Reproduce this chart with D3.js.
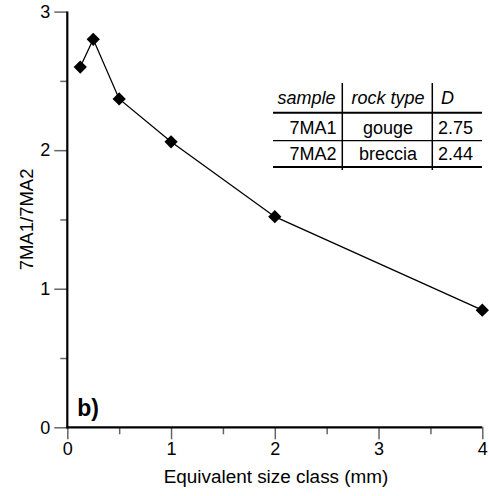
<!DOCTYPE html>
<html>
<head>
<meta charset="utf-8">
<script src="https://cdn.jsdelivr.net/npm/d3@7"></script>
<style>
  body { margin: 0; background: #fff; }
  svg { display: block; font-family: "Liberation Sans", Arial, sans-serif; }
  .axis text { font-size: 18px; fill: #000; }
  .axis line { stroke: #666; stroke-width: 1.5; }
  .axis path { display: none; }
  .tbl text { font-size: 18px; }
</style>
</head>
<body>
<svg id="chart"></svg>
<script>
// size class (mm) and ratio 7MA1/7MA2
const sizeClass = [0.125, 0.25, 0.5, 1, 2, 4];
const ratio = [2.60, 2.80, 2.37, 2.06, 1.52, 0.845];

const xTicks = [0, 1, 2, 3, 4];
const xMinor = [0.5, 1.5, 2.5, 3.5];
const yTicks = [0, 1, 2, 3];
const yMinor = [0.5, 1.5, 2.5];

const tableHeader = ['sample', 'rock type', 'D'];
const tableSamples = ['7MA1', '7MA2'];
const tableRock = ['gouge', 'breccia'];
const tableD = ['2.75', '2.44'];

const data = sizeClass.map((d, i) => ({ x: d, y: ratio[i] }));

const width = 489, height = 496;
const margin = { top: 11.6, right: 6.7, bottom: 68.7, left: 67.3 };
const innerW = width - margin.left - margin.right;
const innerH = height - margin.top - margin.bottom;

const svg = d3.select('#chart')
  .attr('width', width)
  .attr('height', height);

const chart = svg.append('g')
  .attr('transform', `translate(${margin.left}, ${margin.top})`);

const xScale = d3.scaleLinear().domain([0, 4]).range([0, innerW]);
const yScale = d3.scaleLinear().domain([0, 3]).range([innerH, 0]);

// minor ticks first
chart.append('g')
  .attr('class', 'axis')
  .attr('transform', `translate(0, ${innerH})`)
  .call(d3.axisBottom(xScale).tickValues(xMinor).tickSize(7).tickFormat(''));
chart.append('g')
  .attr('class', 'axis')
  .call(d3.axisLeft(yScale).tickValues(yMinor).tickSize(7).tickFormat(''));

// major ticks with labels
chart.append('g')
  .attr('class', 'axis x-axis')
  .attr('transform', `translate(0, ${innerH})`)
  .call(d3.axisBottom(xScale).tickValues(xTicks).tickSize(12).tickPadding(3).tickFormat(d3.format('d')));
chart.append('g')
  .attr('class', 'axis y-axis')
  .call(d3.axisLeft(yScale).tickValues(yTicks).tickSize(13).tickPadding(4).tickFormat(d3.format('d')));

// axis lines
chart.append('line')
  .attr('x1', 0).attr('x2', 0)
  .attr('y1', yScale(3)).attr('y2', yScale(0) + 1)
  .attr('stroke', '#000').attr('stroke-width', 2.2);
chart.append('line')
  .attr('x1', xScale(0) - 1).attr('x2', xScale(4))
  .attr('y1', yScale(0)).attr('y2', yScale(0))
  .attr('stroke', '#000').attr('stroke-width', 2.2);

// axis titles
svg.append('text')
  .attr('x', 276)
  .attr('y', 483)
  .attr('text-anchor', 'middle')
  .attr('font-size', 18.9)
  .text('Equivalent size class (mm)');

svg.append('text')
  .attr('transform', `translate(33, ${margin.top + innerH / 2}) rotate(-90)`)
  .attr('text-anchor', 'middle')
  .attr('font-size', 18.5)
  .text('7MA1/7MA2');

// line and markers
const line = d3.line()
  .x(d => xScale(d.x))
  .y(d => yScale(d.y));

chart.append('path')
  .datum(data)
  .attr('d', line)
  .attr('fill', 'none')
  .attr('stroke', '#000')
  .attr('stroke-width', 1.3);

chart.selectAll('.pt')
  .data(data)
  .join('path')
  .attr('class', 'pt')
  .attr('d', d3.symbol(d3.symbolSquare, 88))
  .attr('transform', d => `translate(${xScale(d.x)}, ${yScale(d.y)}) rotate(45)`)
  .attr('fill', '#000');

// panel label
chart.append('text')
  .attr('x', 10)
  .attr('y', 416.5 - margin.top)
  .attr('font-size', 23)
  .attr('font-weight', 'bold')
  .text('b)');

// table
const tbl = svg.append('g').attr('class', 'tbl');
const tX0 = 273, tX1 = 482, colA = 342.3, colB = 432.3;
const hLines = [{ y: 112.7, w: 2 }, { y: 140.7, w: 1.3 }, { y: 167, w: 2 }];
tbl.selectAll('.hl')
  .data(hLines)
  .join('line')
  .attr('x1', tX0).attr('x2', tX1)
  .attr('y1', d => d.y).attr('y2', d => d.y)
  .attr('stroke', '#000').attr('stroke-width', d => d.w);
tbl.selectAll('.vl')
  .data([colA, colB])
  .join('line')
  .attr('x1', d => d).attr('x2', d => d)
  .attr('y1', 83).attr('y2', 170)
  .attr('stroke', '#000').attr('stroke-width', 1.5);

const headY = 103.5, rowY = [133.5, 160];
tbl.append('text').attr('x', 306.5).attr('y', headY).attr('text-anchor', 'middle')
  .attr('font-style', 'italic').text(tableHeader[0]);
tbl.append('text').attr('x', 388).attr('y', headY).attr('text-anchor', 'middle')
  .attr('font-style', 'italic').text(tableHeader[1]);
tbl.append('text').attr('x', 441).attr('y', headY)
  .attr('font-style', 'italic').text(tableHeader[2]);

tableSamples.forEach((s, i) => {
  tbl.append('text').attr('x', 336.5).attr('y', rowY[i]).attr('text-anchor', 'end').text(s);
  tbl.append('text').attr('x', 388).attr('y', rowY[i]).attr('text-anchor', 'middle').text(tableRock[i]);
  tbl.append('text').attr('x', 438).attr('y', rowY[i]).text(tableD[i]);
});
</script>
</body>
</html>
